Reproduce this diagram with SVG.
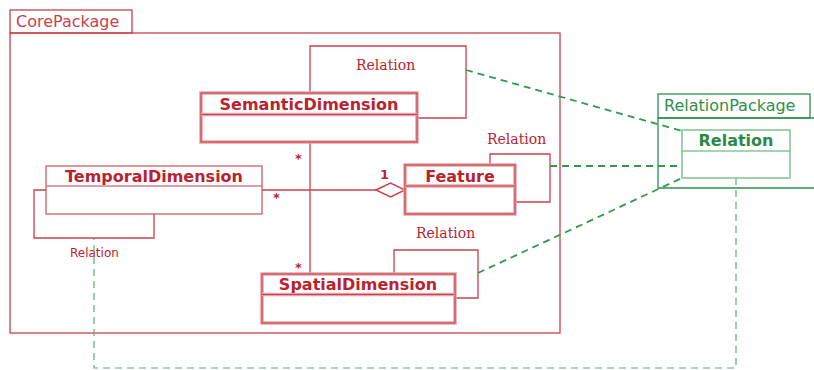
<svg xmlns="http://www.w3.org/2000/svg" width="814" height="370" viewBox="0 0 814 370">
<style>
.pkg{fill:none;stroke:#c8414d;stroke-width:1.3}
.gpkg{fill:none;stroke:#2f8f4a;stroke-width:1.3}
.pkgt{font-family:"DejaVu Sans",sans-serif;font-size:16px;fill:#c8414d}
.gpkgt{font-family:"DejaVu Sans",sans-serif;font-size:16px;fill:#2f8f4a}
.boxo{fill:#fff;stroke:#e6a3a9;stroke-width:3.5}
.boxi{fill:none;stroke:#c8414d;stroke-width:1.1}
.name{font-family:"DejaVu Sans",sans-serif;font-size:16px;font-weight:bold;fill:#b8232f;text-anchor:middle}
.gname{font-family:"DejaVu Sans",sans-serif;font-size:16px;font-weight:bold;fill:#2a8a45;text-anchor:middle}
.gbox{fill:#fff;stroke:#86c795;stroke-width:1.6}
.ln{fill:none;stroke:#c8414d;stroke-width:1.3}
.dash{fill:none;stroke:#2f9a4c;stroke-width:1.8;stroke-dasharray:7,5}
.dashl{fill:none;stroke:#5aaa72;stroke-width:1.2;stroke-dasharray:7,5}
.rel{font-family:"DejaVu Serif",serif;font-size:14px;fill:#b8232f}
.rels{font-family:"DejaVu Sans",sans-serif;font-size:12px;fill:#b8232f}
.mult{font-family:"DejaVu Sans",sans-serif;font-size:13px;font-weight:bold;fill:#b8232f}
</style>
<g id="CorePackage">
<rect class="pkg" x="10" y="10" width="122" height="23"/>
<rect class="pkg" x="10" y="33" width="550" height="300"/>
<text class="pkgt" x="16" y="27">CorePackage</text>
</g>
<g id="RelationPackage">
<rect class="gpkg" x="658" y="94" width="152" height="24"/>
<path class="gpkg" d="M814,118 H658 V188 H814"/>
<text class="gpkgt" x="664" y="111">RelationPackage</text>
</g>
<g id="connectors">
<path class="ln" d="M310,93 V46 H466 V118 H418"/>
<text class="rel" x="356" y="70">Relation</text>
<path class="ln" d="M310,142 V273"/>
<text class="mult" x="295" y="163">*</text>
<text class="mult" x="295" y="272">*</text>
<path class="ln" d="M46,190 H34 V238 H154 V214"/>
<text class="rels" x="70" y="257">Relation</text>
<path class="ln" d="M262,190 H376"/>
<path d="M376,190 L390.5,183 L405,190 L390.5,197 Z" fill="#fff" stroke="#c8414d" stroke-width="1.5"/>
<text class="mult" x="273" y="202">*</text>
<text class="mult" x="380" y="179">1</text>
<path class="ln" d="M490,165 V154 H550 V202 H515"/>
<text class="rel" x="487" y="144">Relation</text>
<path class="ln" d="M394,274 V250 H478 V298 H455"/>
<text class="rel" x="416" y="238">Relation</text>
<path class="dash" d="M466,70 L682,131"/>
<path class="dash" d="M550,166 H682"/>
<path class="dash" d="M478,273 L682,178"/>
<path class="dashl" d="M736,178 V368 H94 V238"/>
</g>
<g id="SemanticDimension">
<rect class="boxo" x="201" y="93" width="216" height="49"/>
<rect class="boxi" x="201" y="93" width="216" height="49"/>
<path class="boxo" d="M201,114.5 H417"/>
<path class="boxi" d="M201,114.5 H417"/>
<text class="name" x="309" y="110">SemanticDimension</text>
</g>
<g id="TemporalDimension">
<rect class="boxi" x="46" y="166" width="216" height="48" fill="#fff"/>
<path class="boxi" d="M46,186 H262"/>
<text class="name" x="154" y="182">TemporalDimension</text>
</g>
<g id="Feature">
<rect class="boxo" x="405" y="165" width="110" height="49"/>
<rect class="boxi" x="405" y="165" width="110" height="49"/>
<path class="boxo" d="M405,186 H515"/>
<path class="boxi" d="M405,186 H515"/>
<text class="name" x="460" y="182">Feature</text>
</g>
<g id="SpatialDimension">
<rect class="boxo" x="262" y="274" width="193" height="49"/>
<rect class="boxi" x="262" y="274" width="193" height="49"/>
<path class="boxo" d="M262,294.5 H455"/>
<path class="boxi" d="M262,294.5 H455"/>
<text class="name" x="358" y="290">SpatialDimension</text>
</g>
<g id="Relation">
<rect class="gbox" x="682" y="130" width="108" height="48"/>
<path class="gbox" d="M682,151 H790"/>
<text class="gname" x="736" y="146">Relation</text>
</g>
</svg>
